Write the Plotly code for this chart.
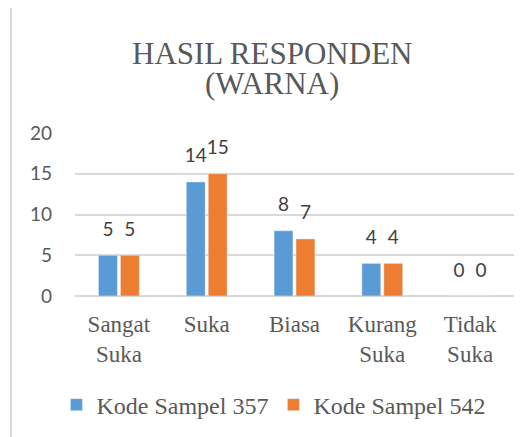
import plotly.graph_objects as go

categories = ["Sangat<br>Suka", "Suka", "Biasa", "Kurang<br>Suka", "Tidak<br>Suka"]
sampel_357 = [5, 14, 8, 4, 0]
sampel_542 = [5, 15, 7, 4, 0]
y_ticks = [0, 5, 10, 15, 20]

serif = "Liberation Serif, Times New Roman, serif"
sans = "Lato"
grey = "#595959"

series = [("Kode Sampel 357", sampel_357, "#5b9bd5", "a"),
          ("Kode Sampel 542", sampel_542, "#ed7d31", "b")]

fig = go.Figure()
for name, vals, color, grp in series:
    fig.add_trace(go.Bar(name=name, x=categories, y=vals, marker=dict(color=color),
                         offsetgroup=grp, alignmentgroup="g"))
# value labels (invisible markers push the text a bit above the bars)
for name, vals, color, grp in series:
    fig.add_trace(go.Scatter(x=categories, y=vals, mode="markers+text", text=vals,
                             textposition="top center", offsetgroup=grp, alignmentgroup="g",
                             marker=dict(size=22, opacity=0), showlegend=False,
                             hoverinfo="skip", cliponaxis=False,
                             textfont=dict(family=sans, size=19, color="#404040")))

fig.update_layout(
    width=522, height=429,
    margin=dict(l=67, r=16, t=125, b=141, autoexpand=False),
    paper_bgcolor="white", plot_bgcolor="white",
    barmode="group", bargap=0.5, bargroupgap=0.14,
    scattermode="group", scattergap=0.5,
    showlegend=True,
    legend=dict(orientation="h", x=0.452, xanchor="center", y=-0.669, yanchor="middle",
                font=dict(family=serif, size=24, color=grey), itemwidth=30,
                tracegroupgap=0),
    xaxis=dict(tickfont=dict(family=serif, size=23, color=grey), showline=False,
               ticks="", automargin=False, ticklabelstandoff=12),
    yaxis=dict(range=[0, 20], tickvals=y_ticks, showgrid=True, gridcolor="#d9d9d9",
               gridwidth=1.5, zeroline=True, zerolinecolor="#d9d9d9", zerolinewidth=1.5,
               tickfont=dict(family=sans, size=19, color=grey), ticks="",
               ticklabelstandoff=22, automargin=False),
    annotations=[
        dict(text="HASIL RESPONDEN", x=0.449, y=1.49, xref="paper", yref="paper",
             yanchor="middle", showarrow=False, font=dict(family=serif, size=31, color=grey)),
        dict(text="(WARNA)", x=0.449, y=1.305, xref="paper", yref="paper",
             yanchor="middle", showarrow=False, font=dict(family=serif, size=31, color=grey)),
    ],
    shapes=[
        dict(type="line", xref="paper", yref="paper", x0=-0.146, x1=-0.146, y0=-1.0, y1=1.779,
             line=dict(color="#d9d9d9", width=2)),
        dict(type="line", xref="paper", yref="paper", x0=-0.146, x1=1.1, y0=1.779, y1=1.779,
             line=dict(color="#d9d9d9", width=2)),
    ],
)

fig.write_html("out.html")
